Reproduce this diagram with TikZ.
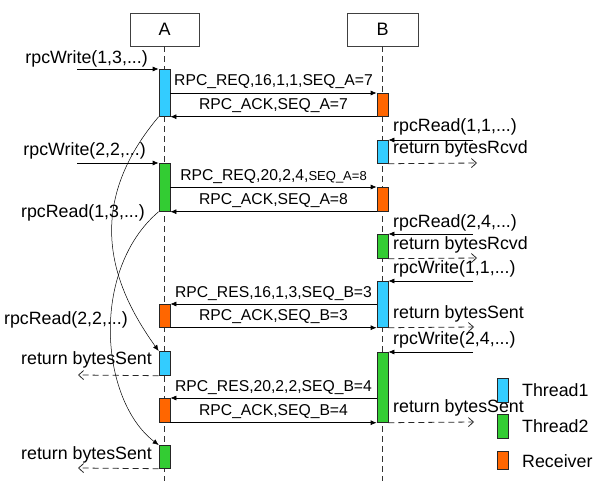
\documentclass[tikz,border=0pt]{standalone}
\usepackage{fontspec}
\setmainfont{Liberation Sans}
\usetikzlibrary{arrows.meta}

\definecolor{thrblue}{HTML}{33CCFF}
\definecolor{thrgreen}{HTML}{33CC33}
\definecolor{rcvorange}{HTML}{FF6600}

\tikzset{
  obj/.style={draw=black!75, line width=0.7pt, minimum height=33pt, inner sep=0pt,
    font=\fontsize{18}{21}\selectfont},
  life/.style={draw=black!80, line width=0.9pt, dash pattern=on 6pt off 4pt},
  act/.style={draw=black!85, line width=0.7pt, minimum width=11pt, inner sep=0pt, anchor=north},
  thra/.style={act, fill=thrblue},
  thrb/.style={act, fill=thrgreen},
  rcv/.style={act, fill=rcvorange},
  msg/.style={line width=0.7pt, -{Latex[length=6pt,width=5pt]}},
  call/.style={msg},
  ret/.style={draw=black!85, line width=0.8pt, dash pattern=on 6pt off 4pt, -{Straight Barb[length=5pt,width=9pt]}},
  hop/.style={line width=0.5pt, -{Latex[length=6pt,width=5pt]}},
  lbl/.style={inner sep=0pt, font=\fontsize{17.8}{21}\selectfont},
  msglbl/.style={inner sep=0pt, anchor=base, yshift=7pt, font=\fontsize{15.7}{18}\selectfont}
}

\begin{document}
\begin{tikzpicture}[x=1pt, y=-1pt]
  \useasboundingbox (0,0) rectangle (596,481);

  % participants and lifelines
  \node[obj, minimum width=69pt] (pa) at (164.5,29.5) {A};
  \node[obj, minimum width=71pt] (pb) at (382.5,29.5) {B};
  \draw[life] (pa.south) -- (pa.south |- 0,481);
  \draw[life] (pb.south) -- (pb.south |- 0,481);

  % activations on A
  \node[thra, minimum height=47pt] (ta1) at (164.5,69) {};
  \node[thrb, minimum height=48pt] (ta2) at (164.5,163) {};
  \node[rcv, minimum height=23pt] (ra1) at (164.5,304) {};
  \node[thra, minimum height=24pt] (ta3) at (164.5,351) {};
  \node[rcv, minimum height=24pt] (ra2) at (164.5,398) {};
  \node[thrb, minimum height=23pt] (ta4) at (164.5,445) {};

  % activations on B
  \node[rcv, minimum height=23pt] (rb1) at (382.5,93) {};
  \node[thra, minimum height=23pt] (tb1) at (382.5,140) {};
  \node[rcv, minimum height=24pt] (rb2) at (382.5,187) {};
  \node[thrb, minimum height=24pt] (tb2) at (382.5,234) {};
  \node[thra, minimum height=46pt] (tb3) at (382.5,281) {};
  \node[thrb, minimum height=70pt] (tb4) at (382.5,352) {};

  % messages between A and B
  \draw[msg] (ta1.east |- rb1.north) -- node[msglbl] {RPC\_REQ,16,1,1,SEQ\_A=7} (rb1.north west);
  \draw[msg] (rb1.south west) -- node[msglbl] {RPC\_ACK,SEQ\_A=7} (ta1.south east);
  \draw[msg] (ta2.east |- rb2.north) -- node[msglbl] {RPC\_REQ,20,2,4,{\fontsize{13}{15}\selectfont SEQ\_A=8}} (rb2.north west);
  \draw[msg] (rb2.south west) -- node[msglbl] {RPC\_ACK,SEQ\_A=8} (ta2.south east);
  \draw[msg] (tb3.west |- ra1.north) -- node[msglbl] {RPC\_RES,16,1,3,SEQ\_B=3} (ra1.north east);
  \draw[msg] (ra1.south east) -- node[msglbl] {RPC\_ACK,SEQ\_B=3} (tb3.south west);
  \draw[msg] (tb4.west |- ra2.north) -- node[msglbl] {RPC\_RES,20,2,2,SEQ\_B=4} (ra2.north east);
  \draw[msg] (ra2.south east) -- node[msglbl] {RPC\_ACK,SEQ\_B=4} (tb4.south west);

  % calls and returns on A
  \coordinate (ca1) at (77,69);
  \coordinate (ca2) at (77,163);
  \coordinate (xa3) at (78,375);
  \coordinate (xa4) at (78,468);
  \draw[call] (ca1) -- (ta1.north west);
  \draw[call] (ca2) -- (ta2.north west);
  \draw[ret] (ta3.south west) -- (xa3);
  \draw[ret] (ta4.south west) -- (xa4);
  \node[lbl, anchor=east] (la1) at (148,59) {rpcWrite(1,3,...)};
  \node[lbl, anchor=east] (la2) at (146,151) {rpcWrite(2,2,...)};
  \node[lbl, anchor=east] (la3) at (145,213) {rpcRead(1,3,...)};
  \node[lbl, anchor=east] (la4) at (128,320) {rpcRead(2,2,...)};
  \node[lbl, anchor=east] (la5) at (152,360) {return bytesSent};
  \node[lbl, anchor=east] (la6) at (152,455) {return bytesSent};

  % thread hand-over curves on A
  \draw[hop] (ta1.south west) .. controls (80,210) and (115,290) .. (ta3.north west);
  \draw[hop] (ta2.south west) .. controls (90,270) and (100,400) .. (ta4.north west);

  % calls and returns on B
  \coordinate (cb1) at (473,140);
  \coordinate (cb2) at (473,234);
  \coordinate (cb3) at (473,281);
  \coordinate (cb4) at (473,352);
  \coordinate (xb1) at (477,163);
  \coordinate (xb2) at (477,258);
  \coordinate (xb3) at (474,327);
  \coordinate (xb4) at (474,422);
  \draw[call] (cb1) -- (tb1.north east);
  \draw[call] (cb2) -- (tb2.north east);
  \draw[call] (cb3) -- (tb3.north east);
  \draw[call] (cb4) -- (tb4.north east);
  \draw[ret] (tb1.south east) -- (xb1);
  \draw[ret] (tb2.south east) -- (xb2);
  \draw[ret] (tb3.south east) -- (xb3);
  \draw[ret] (tb4.south east) -- (xb4);
  \node[lbl, anchor=west] (lb1) at (393,127) {rpcRead(1,1,...)};
  \node[lbl, anchor=west] (lb2) at (393,149) {return bytesRcvd};
  \node[lbl, anchor=west] (lb3) at (393,223) {rpcRead(2,4,...)};
  \node[lbl, anchor=west] (lb4) at (393,245) {return bytesRcvd};
  \node[lbl, anchor=west] (lb5) at (393,269) {rpcWrite(1,1,...)};
  \node[lbl, anchor=west] (lb6) at (393,314) {return bytesSent};
  \node[lbl, anchor=west] (lb7) at (393,340) {rpcWrite(2,4,...)};
  \node[lbl, anchor=west] (lb8) at (393,408) {return bytesSent};

  % legend
  \node[thra, minimum height=24pt] (lg1) at (502.5,378) {};
  \node[thrb, minimum height=24pt] (lg2) at (502.5,414) {};
  \node[rcv, minimum height=18pt] (lg3) at (502.5,451) {};
  \node[lbl, anchor=west] (lt1) at (522,390) {Thread1};
  \node[lbl, anchor=west] (lt2) at (522,426) {Thread2};
  \node[lbl, anchor=west] (lt3) at (522,461) {Receiver};
\end{tikzpicture}
\end{document}
